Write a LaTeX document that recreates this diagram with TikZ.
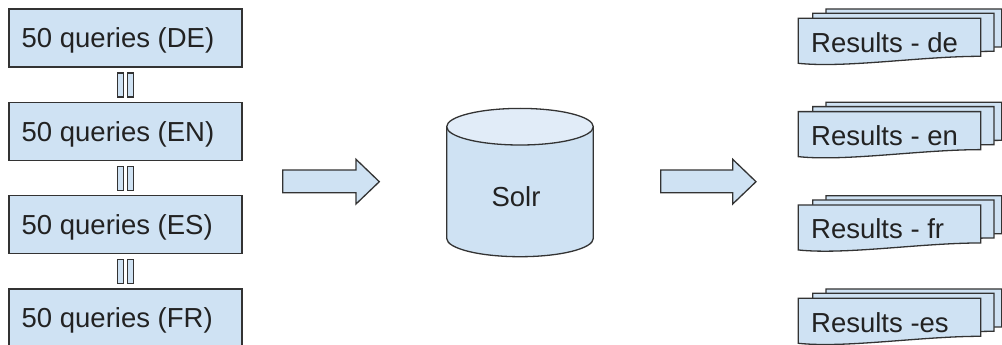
\documentclass[tikz,border=0pt]{standalone}
\usepackage{fontspec}
\setmainfont{Liberation Sans}
\definecolor{boxfill}{HTML}{CFE2F3}
\definecolor{topfill}{HTML}{E1ECF8}
\definecolor{edge}{HTML}{333333}
\definecolor{ink}{HTML}{222222}
\tikzset{
  shape line/.style={draw=edge, line width=1.3pt, fill=boxfill, line join=miter},
  qbox/.style={shape line, rectangle, minimum width=233pt, minimum height=58pt, inner sep=0pt},
  eqbar/.style={shape line, rectangle, minimum width=6.4pt, minimum height=24pt, inner sep=0pt, line width=1.1pt},
  lbl/.style={text=ink, inner sep=0pt, anchor=base west, font=\fontsize{27.5pt}{33pt}\selectfont},
  pics/resdoc/.style={code={
    \path[shape line] (0,0) -- (#1,0) -- (#1,38) .. controls (#1-60,38) and (47,50) .. (0,45) -- cycle;
  }}
}
\begin{document}
\begin{tikzpicture}[x=1pt,y=-1pt]
\useasboundingbox (0,0) rectangle (1002,345);
\clip (0,0) rectangle (1002,345);
% query boxes
\foreach \i/\t in {0/DE,1/EN,2/ES,3/FR}{
  \node[qbox] (q\i) at (125.5, {38+93.33*\i}) {};
  \node[lbl] (q\i t) at (21.5, {47.8+93.33*\i}) {50 queries (\t)};
}
% equal signs
\foreach \i in {0,1,2}{
  \node[eqbar] (ea\i) at (120.6, {85+93.33*\i}) {};
  \node[eqbar] (eb\i) at (130.5, {85+93.33*\i}) {};
}
% arrows
\path[shape line] (282.7,170) -- (356,170) -- (356,159.3) -- (379.3,181.7) -- (356,204) -- (356,192.7) -- (282.7,192.7) -- cycle;
\path[shape line] (660.7,170) -- (732.7,170) -- (732.7,159.3) -- (756,181.7) -- (732.7,204) -- (732.7,192.7) -- (660.7,192.7) -- cycle;
% cylinder
\path[shape line] (446.7,126.7) -- (446.7,238.4) arc[start angle=180, end angle=360, x radius=73.3pt, y radius=18.3pt] -- (593.3,126.7) -- cycle;
\path[shape line, fill=topfill] (520,126.7) ellipse[x radius=73.3pt, y radius=18.3pt];
\node[lbl, anchor=base] (solr) at (516,206) {Solr};
% result documents
\foreach \i/\t in {0/Results - de,1/Results - en,2/Results - fr,3/Results -es}{
  \pic at (826, {9+93.33*\i}) {resdoc=175.7};
  \pic at (812.7, {13.3+93.33*\i}) {resdoc=181.3};
  \pic at (798.3, {18.3+93.33*\i}) {resdoc=182.4};
  \node[lbl] (r\i) at (811, {52.3+93.33*\i}) {\t};
}
\end{tikzpicture}
\end{document}
